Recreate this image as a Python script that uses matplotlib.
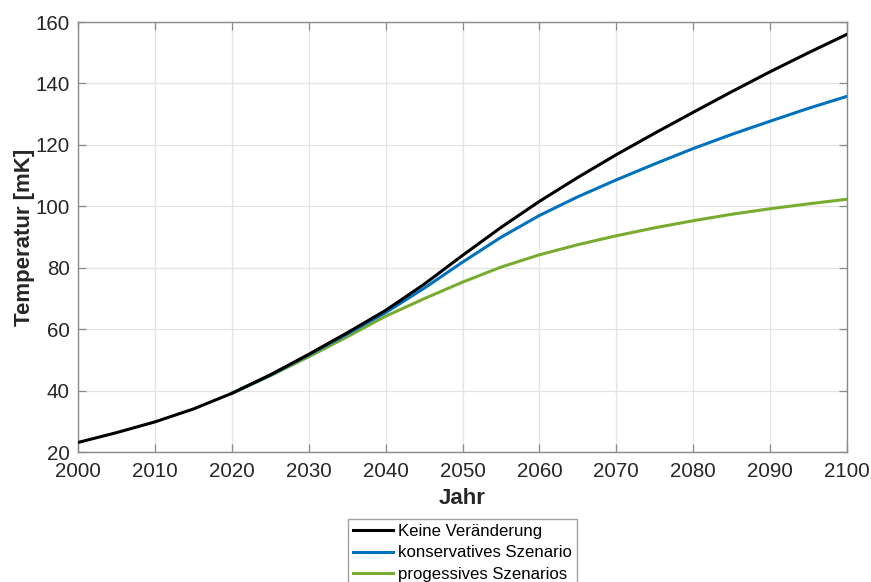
import matplotlib
matplotlib.use("Agg")
import matplotlib.pyplot as plt

# Temperature projections (mK) per year
years = [2000, 2005, 2010, 2015, 2020, 2025, 2030, 2035, 2040, 2045, 2050,
         2055, 2060, 2065, 2070, 2075, 2080, 2085, 2090, 2095, 2100]
keine = [23.1, 26.3, 29.8, 34.0, 39.1, 45.1, 51.8, 58.8, 66.1, 74.6, 84.0,
         93.1, 101.6, 109.4, 116.8, 123.8, 130.6, 137.3, 143.8, 150.0, 156.0]

years_s = [2020, 2025, 2030, 2035, 2040, 2045, 2050, 2055, 2060, 2065, 2070,
           2075, 2080, 2085, 2090, 2095, 2100]
konservativ = [39.1, 45.0, 51.6, 58.4, 65.4, 73.3, 81.8, 89.9, 97.0, 103.1, 108.6,
               113.8, 118.8, 123.4, 127.7, 131.9, 135.8]
progressiv = [39.1, 44.8, 51.0, 57.5, 64.2, 69.9, 75.3, 80.2, 84.2, 87.5, 90.4,
              93.0, 95.3, 97.4, 99.2, 100.8, 102.3]

labels = ["Keine Veränderung", "konservatives Szenario", "progessives Szenarios"]
xticks = list(range(2000, 2101, 10))
yticks = list(range(20, 161, 20))

plt.rcParams["font.family"] = ["Liberation Sans", "DejaVu Sans"]
txt = "#262626"

fig = plt.figure(figsize=(8.71, 5.82), dpi=100)
ax = fig.add_axes([78 / 871, 130 / 582, 769 / 871, 430 / 582])

ax.plot(years_s, progressiv, color="#77AC30", lw=2.2, zorder=3, label=labels[2])
ax.plot(years_s, konservativ, color="#0072BD", lw=2.2, zorder=4, label=labels[1])
ax.plot(years, keine, color="black", lw=2.2, zorder=5, label=labels[0])

ax.set_xlim(2000, 2100)
ax.set_ylim(20, 160)
ax.set_xticks(xticks)
ax.set_yticks(yticks)
ax.grid(True, color="#e3e3e3", lw=0.9, zorder=0)
ax.tick_params(direction="in", length=6, width=0.9, color="#8a8a8a",
               labelsize=14.8, labelcolor=txt, top=True, right=True)
ax.tick_params(axis="x", pad=7)
ax.tick_params(axis="y", pad=6)
for s in ax.spines.values():
    s.set_color("#8a8a8a")
    s.set_linewidth(1.0)

ax.set_xlabel("Jahr", fontsize=16, fontweight="bold", color=txt, labelpad=5)
ax.set_ylabel("Temperatur [mK]", fontsize=16, fontweight="bold", color=txt, labelpad=0)

handles, labs = ax.get_legend_handles_labels()
order = [2, 1, 0]
leg = fig.legend([handles[i] for i in order], [labs[i] for i in order],
                 loc="upper center", bbox_to_anchor=(462.5 / 871, 63 / 582),
                 fontsize=12.1, frameon=True, fancybox=False, borderpad=0.3,
                 labelspacing=0.38, handlelength=2.4, handletextpad=0.3,
                 borderaxespad=0)
leg.get_frame().set_edgecolor("#8a8a8a")
leg.get_frame().set_linewidth(1.0)
for t in leg.get_texts():
    t.set_color("black")

fig.savefig("out.png", dpi=100)
